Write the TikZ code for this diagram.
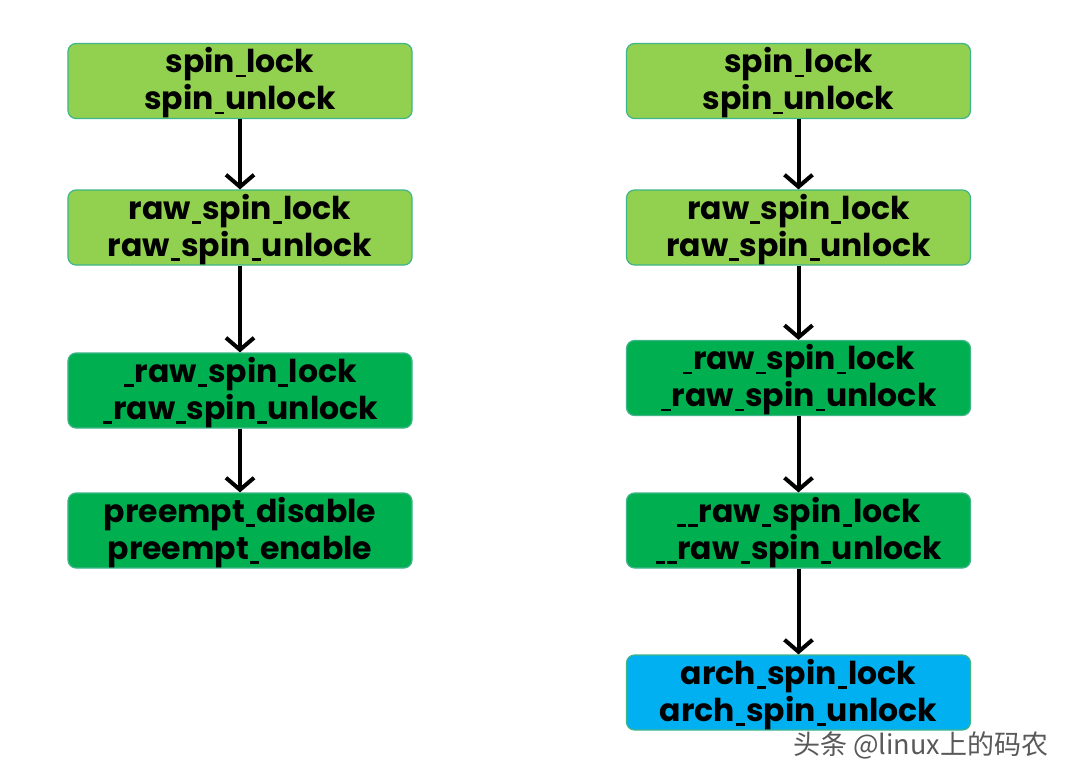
\documentclass[tikz,border=0pt]{standalone}
\usepackage{fontspec}
\setmainfont{Poppins}
\newfontfamily\cjk{Noto Sans CJK SC}
\usetikzlibrary{arrows.meta}
\definecolor{lgreen}{HTML}{92D050}
\definecolor{dgreen}{HTML}{00B050}
\definecolor{lblue}{HTML}{00B0F0}
\definecolor{bordc}{HTML}{3FB58A}
\newcommand\us{\kern0.03em\rule[-0.14em]{0.3em}{0.08em}\kern0.03em}
\newcommand\tp{\rule{0pt}{29bp}}
\tikzset{
  box/.style={draw=bordc, line width=1.2bp, rounded corners=8bp, minimum width=344bp, minimum height=75bp,
    align=center, inner sep=0pt, font=\fontsize{31.5bp}{37bp}\selectfont\bfseries, text=black},
  lg/.style={box, fill=lgreen},
  dg/.style={box, fill=dgreen},
  bl/.style={box, fill=lblue},
  arr/.style={line width=4bp, -{Straight Barb[length=12bp,width=28bp,line width=4bp]}},
}
\begin{document}
\begin{tikzpicture}[x=1bp,y=-1bp]
\useasboundingbox (0,0) rectangle (1074,782);
\fill[white] (0,0) rectangle (1074,782);
% left column
\node[lg] (l1) at (240,81) {\tp spin\us lock\\spin\us unlock};
\node[lg] (l2) at (240,227.5) {\tp raw\us spin\us lock\\raw\us spin\us unlock};
\node[dg] (l3) at (240,390.5) {\tp\us raw\us spin\us lock\\\us raw\us spin\us unlock};
\node[dg] (l4) at (240,530.5) {\tp preempt\us disable\\preempt\us enable};
% right column
\node[lg] (r1) at (798.5,81) {\tp spin\us lock\\spin\us unlock};
\node[lg] (r2) at (798.5,227.5) {\tp raw\us spin\us lock\\raw\us spin\us unlock};
\node[dg] (r3) at (798.5,378) {\tp\us raw\us spin\us lock\\\us raw\us spin\us unlock};
\node[dg] (r4) at (798.5,530.5) {\tp\us\us raw\us spin\us lock\\\us\us raw\us spin\us unlock};
\node[bl] (r5) at (798.5,692.5) {\tp arch\us spin\us lock\\arch\us spin\us unlock};
% arrows
\draw[arr] (l1) -- (l2);
\draw[arr] (l2) -- (l3);
\draw[arr] (l3) -- (l4);
\draw[arr] (r1) -- (r2);
\draw[arr] (r2) -- (r3);
\draw[arr] (r3) -- (r4);
\draw[arr] (r4) -- (r5);
% watermark
\node[font=\cjk\fontsize{27bp}{30bp}\selectfont, text=black!65, anchor=west, inner sep=0pt] (wm) at (793,745) {头条 @linux上的码农};
\end{tikzpicture}
\end{document}
